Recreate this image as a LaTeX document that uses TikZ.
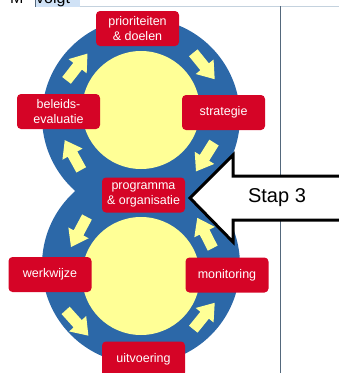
\documentclass[tikz,border=0pt]{standalone}
\usepackage{fontspec}
\setmainfont{Liberation Sans}
\definecolor{ringblue}{RGB}{44,104,168}
\definecolor{paleyellow}{RGB}{255,255,150}
\definecolor{boxred}{RGB}{213,4,38}
\definecolor{selblue}{RGB}{208,226,246}
\definecolor{rulegray}{RGB}{196,210,222}
\definecolor{slate}{RGB}{84,104,124}
\begin{document}
\begin{tikzpicture}[x=1pt,y=-1pt,
  stepbox/.style={fill=boxred, rounded corners=4pt, text=white,
    minimum width=83pt, minimum height=35pt, align=center, inner sep=1pt,
    font=\fontsize{12.5}{15.5}\selectfont},
  ringarrow/.pic={\fill[paleyellow] (-17,-5.5) -- (1,-5.5) -- (1,-11.5) -- (17,0)
    -- (1,11.5) -- (1,5.5) -- (-17,5.5) -- cycle;},
  topline/.style={rulegray, line width=0.8pt},
  divider/.style={slate, line width=0.8pt},
  callout/.style={draw=black, line width=3pt, fill=white, line join=miter}]
\useasboundingbox (0,0) rectangle (339,373);
\clip (0,0) rectangle (339,373);

% header strip, cut off at the top edge
\fill[selblue] (35,-2) rectangle (80,6.5);
\draw[slate, line width=0.5pt] (35,-2) -- (35,6.5);
\draw[topline] (80,6) -- (339,6);
\node[anchor=base west, inner sep=0, font=\fontsize{16}{19}\selectfont] (hm) at (10,3) {M};
\node[anchor=base west, inner sep=0, font=\fontsize{16}{19}\selectfont] (hv) at (36,3) {volgt};

% column divider
\draw[divider] (280,6) -- (280,373);

% figure-eight ring
\fill[ringblue] (141,117) circle (99pt);
\fill[ringblue] (141,265) circle (99pt);
\fill[paleyellow] (141,110) circle (59pt);
\fill[paleyellow] (141,276) circle (59pt);

% flow arrows, upper loop (clockwise)
\pic[rotate=52]   at (77,67)   {ringarrow};
\pic[rotate=-51]  at (204,66)  {ringarrow};
\pic[rotate=-122] at (205,157) {ringarrow};
\pic[rotate=119]  at (73,155)  {ringarrow};
% flow arrows, lower loop (counter-clockwise)
\pic[rotate=242]  at (79,232)  {ringarrow};
\pic[rotate=-48]  at (77,323)  {ringarrow};
\pic[rotate=51]   at (204,316) {ringarrow};
\pic[rotate=117]  at (205,233) {ringarrow};

% steps
\node[stepbox] (prio)   at (137.5,28.5) {prioriteiten\\\& doelen};
\node[stepbox] (beleid) at (58.5,111.5) {beleids-\\evaluatie};
\node[stepbox] (strat)  at (223.5,112.5) {strategie};
\node[stepbox] (prog)   at (143.5,195) {programma\\\& organisatie};
\node[stepbox] (werk)   at (50,274.5) {werkwijze};
\node[stepbox] (mon)    at (227,275) {monitoring};
\node[stepbox] (uit)    at (143.5,359) {uitvoering};

% call-out pointing at the current step
\draw[callout] (190,198) -- (233,155) -- (233,176) -- (345,176) -- (345,220)
  -- (233,220) -- (233,242) -- cycle;
\node[font=\fontsize{20}{24}\selectfont] (stap) at (277,198) {Stap 3};
\end{tikzpicture}
\end{document}
